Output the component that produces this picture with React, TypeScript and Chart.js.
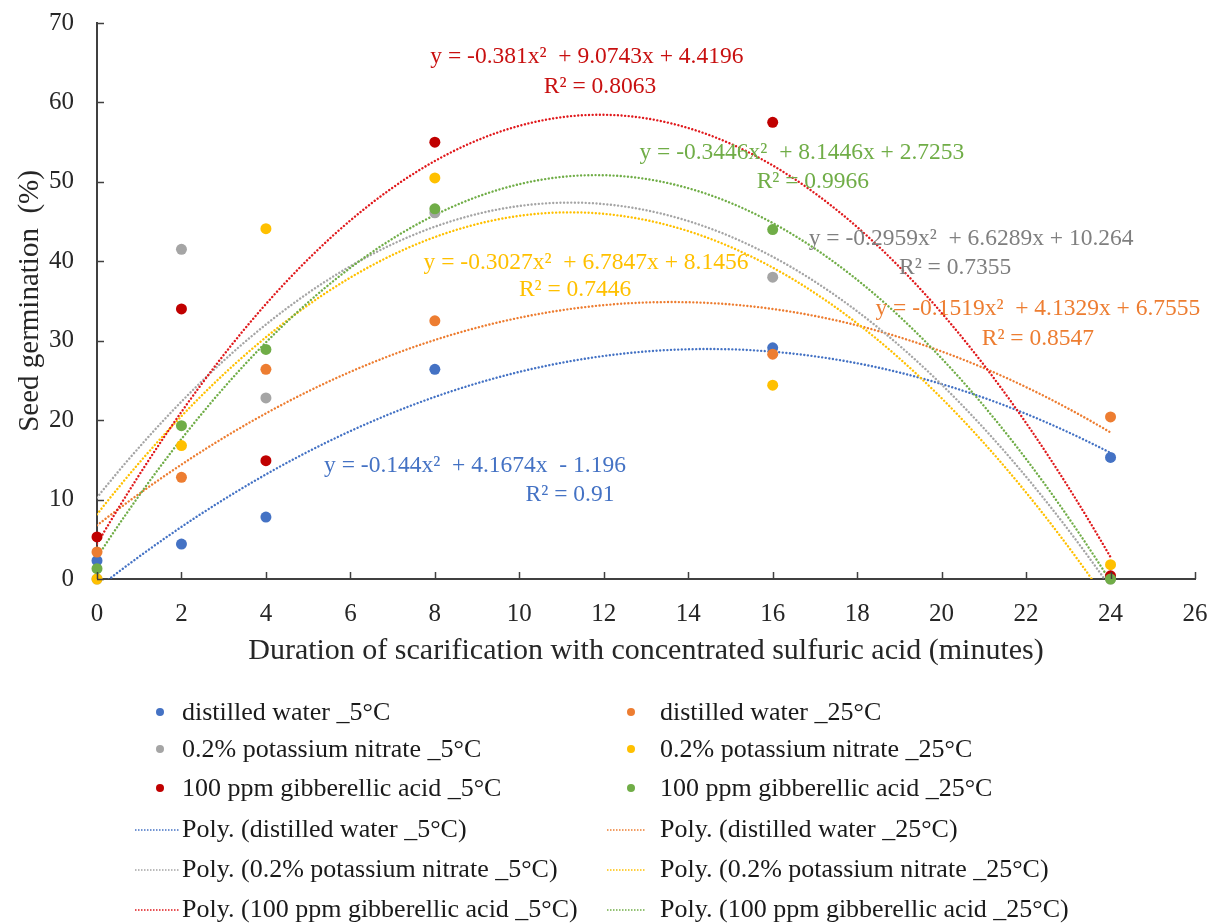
import React, { useEffect, useRef } from "react";
import { Chart, registerables } from "chart.js";

Chart.register(...registerables);

// ---------- data ----------
const xValues = [0, 2, 4, 8, 16, 24];

const seriesNames = [
  "distilled water _5°C",
  "distilled water _25°C",
  "0.2% potassium nitrate _5°C",
  "0.2% potassium nitrate _25°C",
  "100 ppm gibberellic acid _5°C",
  "100 ppm gibberellic acid _25°C",
];

const distilledWater5 = [2.3, 4.4, 7.8, 26.4, 29.1, 15.3];
const distilledWater25 = [3.4, 12.8, 26.4, 32.5, 28.3, 20.4];
const potassiumNitrate5 = [0, 41.5, 22.8, 46.1, 38.0, 0];
const potassiumNitrate25 = [0, 16.8, 44.1, 50.5, 24.4, 1.8];
const gibberellic5 = [5.3, 34.0, 14.9, 55.0, 57.5, 0.4];
const gibberellic25 = [1.3, 19.3, 28.9, 46.6, 44.0, 0];

const seriesValues = [
  distilledWater5,
  distilledWater25,
  potassiumNitrate5,
  potassiumNitrate25,
  gibberellic5,
  gibberellic25,
];

// polynomial trendline coefficients shown on the chart: y = a x² + b x + c
const trendA = [-0.144, -0.1519, -0.2959, -0.3027, -0.381, -0.3446];
const trendB = [4.1674, 4.1329, 6.6289, 6.7847, 9.0743, 8.1446];
const trendC = [-1.196, 6.7555, 10.264, 8.1456, 4.4196, 2.7253];

const equationTexts = [
  "y = -0.144x²  + 4.1674x  - 1.196",
  "y = -0.1519x²  + 4.1329x + 6.7555",
  "y = -0.2959x²  + 6.6289x + 10.264",
  "y = -0.3027x²  + 6.7847x + 8.1456",
  "y = -0.381x²  + 9.0743x + 4.4196",
  "y = -0.3446x²  + 8.1446x + 2.7253",
];
const r2Texts = ["R² = 0.91", "R² = 0.8547", "R² = 0.7355", "R² = 0.7446", "R² = 0.8063", "R² = 0.9966"];

const xTicksMin = 0;
const xTicksMax = 26;
const yTicksMin = 0;
const yTicksMax = 70;

const xTitle = "Duration of scarification with concentrated sulfuric acid (minutes)";
const yTitle = "Seed germination  (%)";

// ---------- styles ----------
const FONT = "'Liberation Serif', 'Times New Roman', serif";
const pointColors = ["#4472C4", "#ED7D31", "#A5A5A5", "#FFC000", "#C00000", "#70AD47"];
const lineColors = ["#4472C4", "#ED7D31", "#A5A5A5", "#FFC000", "#E0191C", "#70AD47"];
const eqColors = ["#4472C4", "#ED7D31", "#7F7F7F", "#FFC000", "#C81010", "#70AD47"];

// label anchor positions in data units [eqX, eqY, r2X, r2Y]
const eqPositions = [
  [8.95, 14.2, 11.2, 10.6],
  [22.28, 34.0, 22.28, 30.3],
  [20.7, 42.8, 20.32, 39.2],
  [11.58, 39.8, 11.32, 36.4],
  [11.6, 65.7, 11.91, 62.0],
  [16.69, 53.6, 16.95, 50.0],
];

const trendX: number[] = [];
for (let i = 0; i <= 120; i++) trendX.push(i * 0.2);

const innerTicksPlugin = {
  id: "innerTicks",
  afterDraw(chart: any) {
    const ctx = chart.ctx;
    const xs = chart.scales.x;
    const ys = chart.scales.y;
    ctx.save();
    ctx.strokeStyle = "#404040";
    ctx.lineWidth = 1.5;
    ctx.beginPath();
    xs.ticks.forEach((t: any) => {
      const px = Math.round(xs.getPixelForValue(t.value)) + 0.5;
      ctx.moveTo(px, ys.bottom);
      ctx.lineTo(px, ys.bottom - 7);
    });
    ys.ticks.forEach((t: any) => {
      const py = Math.round(ys.getPixelForValue(t.value)) + 0.5;
      ctx.moveTo(xs.left, py);
      ctx.lineTo(xs.left + 7, py);
    });
    ctx.stroke();
    ctx.restore();
  },
};

const equationPlugin = {
  id: "equations",
  afterDatasetsDraw(chart: any) {
    const ctx = chart.ctx;
    const xs = chart.scales.x;
    const ys = chart.scales.y;
    ctx.save();
    ctx.font = `23.5px ${FONT}`;
    ctx.textAlign = "center";
    ctx.textBaseline = "middle";
    eqPositions.forEach((p, i) => {
      ctx.fillStyle = eqColors[i];
      ctx.fillText(equationTexts[i], xs.getPixelForValue(p[0]), ys.getPixelForValue(p[1]));
      ctx.fillText(r2Texts[i], xs.getPixelForValue(p[2]), ys.getPixelForValue(p[3]));
    });
    ctx.restore();
  },
};

const legendPlugin = {
  id: "customLegend",
  afterDraw(chart: any) {
    const ctx = chart.ctx;
    const ds = chart.data.datasets;
    const rowsY = [712, 749, 788, 829, 869, 909];
    const cols = [
      { dot: 160, lineFrom: 135, lineTo: 180, text: 182 },
      { dot: 631, lineFrom: 607, lineTo: 645, text: 660 },
    ];
    ctx.save();
    ctx.font = `26px ${FONT}`;
    ctx.textBaseline = "middle";
    ctx.textAlign = "left";
    for (let k = 0; k < 12; k++) {
      const isTrend = k >= 6;
      const idx = k % 6;
      const row = Math.floor(idx / 2) + (isTrend ? 3 : 0);
      const col = cols[idx % 2];
      const y = rowsY[row];
      const d = ds[k];
      if (isTrend) {
        ctx.strokeStyle = d.borderColor;
        ctx.lineWidth = 1.6;
        ctx.setLineDash([1.5, 1.5]);
        ctx.beginPath();
        ctx.moveTo(col.lineFrom, y + 1);
        ctx.lineTo(col.lineTo, y + 1);
        ctx.stroke();
        ctx.setLineDash([]);
      } else {
        ctx.fillStyle = d.backgroundColor;
        ctx.beginPath();
        ctx.arc(col.dot, y, 4, 0, Math.PI * 2);
        ctx.fill();
      }
      ctx.fillStyle = "#1a1a1a";
      ctx.fillText(d.label, col.text, y + 1);
    }
    ctx.restore();
  },
};

export default function App() {
  const canvasRef = useRef<HTMLCanvasElement | null>(null);

  useEffect(() => {
    const canvas = canvasRef.current;
    if (!canvas) return;

    const pointSets = seriesValues.map((vals, i) => ({
      type: "scatter" as const,
      label: seriesNames[i],
      data: xValues.map((x, j) => ({ x, y: vals[j] })),
      backgroundColor: pointColors[i],
      borderColor: pointColors[i],
      pointRadius: 5.5,
      pointBorderWidth: 0,
      showLine: false,
      clip: false,
      order: 6 - i,
    }));

    const trendSets = seriesValues.map((_, i) => ({
      type: "line" as const,
      label: `Poly. (${seriesNames[i]})`,
      data: trendX.map((x) => ({ x, y: trendA[i] * x * x + trendB[i] * x + trendC[i] })),
      borderColor: lineColors[i],
      backgroundColor: lineColors[i],
      borderWidth: 2.4,
      borderDash: [0.01, 3.6],
      borderCapStyle: "round" as const,
      pointRadius: 0,
      fill: false,
      tension: 0,
      order: 20 - i,
    }));

    const chart = new Chart(canvas, {
      type: "scatter",
      data: { datasets: [...pointSets, ...trendSets] as any },
      options: {
        responsive: false,
        animation: false,
        devicePixelRatio: 1,
        layout: { padding: { top: 23, right: 21, bottom: 245, left: 0 } },
        plugins: {
          legend: { display: false },
          tooltip: { enabled: false },
        },
        scales: {
          x: {
            type: "linear",
            min: xTicksMin,
            max: xTicksMax,
            ticks: {
              stepSize: 2,
              font: { family: FONT, size: 25 },
              color: "#262626",
              padding: 12,
            },
            grid: { display: false },
            border: { display: true, color: "#404040", width: 2 },
            title: {
              display: true,
              text: xTitle,
              font: { family: FONT, size: 30 },
              color: "#262626",
              padding: { top: 0, bottom: 10 },
            },
            afterFit: (s: any) => {
              s.height = 100;
              s.paddingLeft = 0;
              s.paddingRight = 0;
            },
          },
          y: {
            type: "linear",
            min: yTicksMin,
            max: yTicksMax,
            ticks: {
              stepSize: 10,
              font: { family: FONT, size: 25 },
              color: "#262626",
              padding: 15,
            },
            grid: { display: false },
            border: { display: true, color: "#404040", width: 2 },
            title: {
              display: true,
              text: yTitle,
              font: { family: FONT, size: 29 },
              color: "#262626",
              padding: { top: 13, bottom: 0 },
            },
            afterFit: (s: any) => {
              s.width = 97;
              s.paddingTop = 0;
              s.paddingBottom = 0;
            },
          },
        },
      },
      plugins: [innerTicksPlugin, equationPlugin, legendPlugin],
    });

    return () => chart.destroy();
  }, []);

  return (
    <div style={{ position: "absolute", left: 0, top: 0, width: 1216, height: 924, background: "#fff" }}>
      <canvas ref={canvasRef} width={1216} height={924} style={{ display: "block" }} />
    </div>
  );
}
